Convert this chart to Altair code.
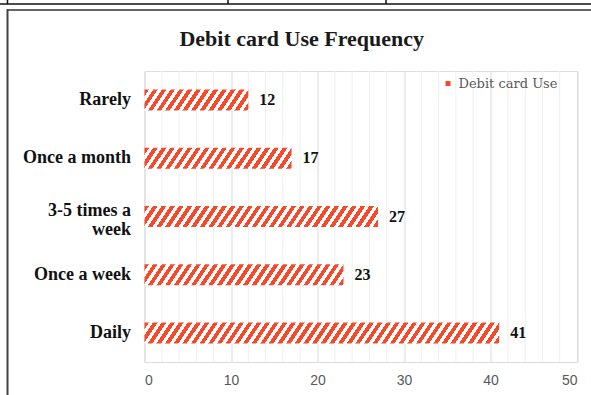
import altair as alt
import pandas as pd

# ---- data ----
categories = ["Rarely", "Once a month", "3-5 times a week", "Once a week", "Daily"]
values = [12, 17, 27, 23, 41]
series_name = "Debit card Use"
major_ticks = [0, 10, 20, 30, 40, 50]
minor_ticks = [2, 4, 6, 8, 12, 14, 16, 18, 22, 24, 26, 28, 32, 34, 36, 38, 42, 44, 46, 48]

# ---- layout / style ----
PLOT_W = 432.5
PLOT_H = 291
X_MAX = 50
PX_PER_UNIT = PLOT_W / X_MAX
BAR_H = 21.0
PERIOD = 8.65      # stripe period in px
SLOPE = 1.5        # stripe steepness (dy/dx)
DUTY = 0.52
RED = "#F8482A"
WHITE = "#ffffff"
SERIF = "Liberation Serif"

df = pd.DataFrame({"category": categories, "value": values, "series": series_name})


def hatch(v):
    w = v * PX_PER_UNIT
    r = SLOPE * w / BAR_H
    b = (r + 1) / (r * r + 1)
    a = r * b
    n = (w + BAR_H / SLOPE) / PERIOD
    p = 1.0 / n
    stops = []
    i = 0
    while i * p < 1:
        s0 = i * p
        s1 = min(1.0, s0 + DUTY * p)
        s2 = min(1.0, (i + 1) * p)
        stops += [
            alt.GradientStop(offset=s0, color=RED),
            alt.GradientStop(offset=s1, color=RED),
            alt.GradientStop(offset=s1, color=WHITE),
            alt.GradientStop(offset=s2, color=WHITE),
        ]
        i += 1
    return alt.LinearGradient(gradient="linear", stops=stops, x1=0, y1=0, x2=a, y2=b)


x_scale = alt.Scale(domain=[0, X_MAX], nice=False, zero=True)
y_scale = alt.Scale(domain=categories, paddingInner=0.64, paddingOuter=0.32)

base = alt.Chart(df)

minor_grid = alt.Chart(pd.DataFrame({"t": minor_ticks})).mark_rule(
    color="#efefef", strokeWidth=1
).encode(x=alt.X("t:Q", scale=x_scale))

axis_layer = base.mark_bar(opacity=0).encode(
    x=alt.X(
        "value:Q",
        scale=x_scale,
        axis=alt.Axis(
            values=major_ticks,
            title=None,
            grid=True,
            gridColor="#d9d9d9",
            domain=False,
            ticks=False,
            labelFont="Liberation Sans",
            labelFontSize=14,
            labelColor="#595959",
            labelPadding=11,
        ),
    ),
    y=alt.Y(
        "category:N",
        scale=y_scale,
        sort=categories,
        axis=alt.Axis(
            title=None,
            domain=False,
            ticks=False,
            grid=False,
            labelFont=SERIF,
            labelFontSize=18,
            labelFontWeight="bold",
            labelColor="#111111",
            labelPadding=14,
            labelLineHeight=19.5,
            labelOffset={
                "condition": {"test": "datum.value == '3-5 times a week'", "value": -6},
                "value": 0,
            },
            labelExpr="datum.label == '3-5 times a week' ? ['3-5 times a', 'week'] : datum.label",
        ),
    ),
)

bar_layers = []
for c, v in zip(categories, values):
    bar_layers.append(
        base.transform_filter(alt.datum.category == c)
        .mark_bar(color=hatch(v))
        .encode(
            x=alt.X("value:Q", scale=x_scale),
            y=alt.Y("category:N", scale=y_scale, sort=categories),
        )
    )

legend_layer = base.transform_filter(alt.datum.category == "Rarely").mark_bar().encode(
    x=alt.datum(0),
    y=alt.Y("category:N", scale=y_scale, sort=categories),
    color=alt.Color(
        "series:N",
        scale=alt.Scale(domain=[series_name], range=[RED]),
        legend=alt.Legend(
            title=None,
            orient="none",
            legendX=297,
            legendY=6,
            symbolType="square",
            symbolSize=25,
            labelFont="DejaVu Serif",
            labelFontSize=13,
            labelColor="#595959",
            labelOffset=4,
        ),
    ),
)

labels = base.mark_text(
    align="left", baseline="middle", dx=11, font=SERIF, fontSize=16,
    fontWeight="bold", color="#111111"
).encode(
    x=alt.X("value:Q", scale=x_scale),
    y=alt.Y("category:N", scale=y_scale, sort=categories),
    text=alt.Text("value:Q"),
)

# document frame decorations around the chart
frame_h = alt.Chart(pd.DataFrame({"k": [0]})).mark_rule(color="#111111", strokeWidth=1.5).encode(
    x=alt.value(-145), x2=alt.value(447), y=alt.value(-67)
)
frame_top = alt.Chart(pd.DataFrame({"k": [0]})).mark_rule(color="#666666", strokeWidth=2).encode(
    x=alt.value(-137.5), x2=alt.value(447), y=alt.value(-61)
)
frame_left = alt.Chart(pd.DataFrame({"k": [0]})).mark_rule(color="#444444", strokeWidth=2).encode(
    x=alt.value(-137), y=alt.value(-62), y2=alt.value(330)
)
table_v = alt.Chart(pd.DataFrame({"px": [-137, 83.5, 241.5]})).mark_rule(
    color="#111111", strokeWidth=1.5
).encode(x=alt.X("px:Q", scale=None), y=alt.value(-72), y2=alt.value(-67))

chart = alt.layer(
    minor_grid, axis_layer, *bar_layers, legend_layer, labels,
    frame_h, frame_top, frame_left, table_v
).properties(
    width=PLOT_W,
    height=PLOT_H,
    autosize=alt.AutoSizeParams(type="none"),
    padding={"left": 144.5, "top": 71, "right": 14, "bottom": 33},
    title=alt.TitleParams(
        "Debit card Use Frequency",
        font=SERIF,
        fontSize=22,
        fontWeight="bold",
        color="#1a1a1a",
        anchor="middle",
        dx=-59,
        offset=-53,
    ),
).configure_view(stroke=None).configure(background="white")

chart.save("out.html", embed_options={"renderer": "svg", "actions": False})
